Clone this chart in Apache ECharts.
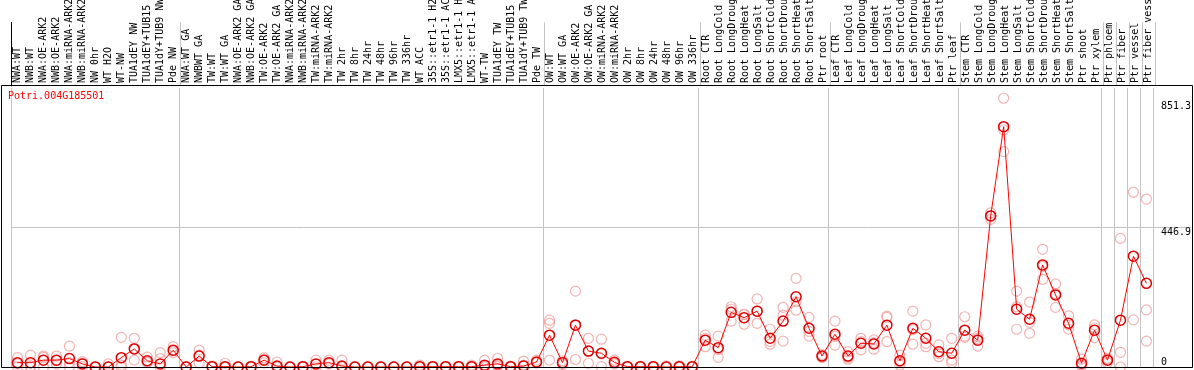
<!DOCTYPE html>
<html>
<head>
<meta charset="utf-8">
<script src="https://cdn.jsdelivr.net/npm/echarts@6/dist/echarts.min.js"></script>
<style>
  html, body { margin: 0; padding: 0; background: #fff; }
  #chart { width: 1194px; height: 370px; }
</style>
</head>
<body>
<div id="chart"></div>
<script>
///////////////////////////////////////////////////
// Data
///////////////////////////////////////////////////
var categories = [
  'NWA:WT', 'NWB:WT', 'NWA:OE-ARK2', 'NWB:OE-ARK2', 'NWA:miRNA-ARK2', 'NWB:miRNA-ARK2',
  'NW 0hr', 'WT H2O', 'WT-NW', 'TUA1dEY NW', 'TUA1dEY+TUB15 NW', 'TUA1dY+TUB9 NW', 'Pde NW',
  'NWA:WT GA', 'NWBWT GA', 'TW:WT', 'TW:WT GA', 'NWA:OE-ARK2 GA', 'NWB:OE-ARK2 GA',
  'TW:OE-ARK2', 'TW:OE-ARK2 GA', 'NWA:miRNA-ARK2', 'NWB:miRNA-ARK2', 'TW:miRNA-ARK2',
  'TW:miRNA-ARK2', 'TW 2hr', 'TW 8hr', 'TW 24hr', 'TW 48hr', 'TW 96hr', 'TW 336hr', 'WT ACC',
  '35S::etr1-1 H2O', '35S::etr1-1 ACC', 'LMX5::etr1-1 H2O', 'LMX5::etr1-1 ACC', 'WT-TW',
  'TUA1dEY TW', 'TUA1dEY+TUB15 TW', 'TUA1dY+TUB9 TW', 'Pde TW',
  'OW:WT', 'OW:WT GA', 'OW:OE-ARK2', 'OW:OE-ARK2 GA', 'OW:miRNA-ARK2', 'OW:miRNA-ARK2',
  'OW 2hr', 'OW 8hr', 'OW 24hr', 'OW 48hr', 'OW 96hr', 'OW 336hr',
  'Root CTR', 'Root LongCold', 'Root LongDrought', 'Root LongHeat', 'Root LongSalt',
  'Root ShortCold', 'Root ShortDrought', 'Root ShortHeat', 'Root ShortSalt', 'Ptr root',
  'Leaf CTR', 'Leaf LongCold', 'Leaf LongDrought', 'Leaf LongHeat', 'Leaf LongSalt',
  'Leaf ShortCold', 'Leaf ShortDrought', 'Leaf ShortHeat', 'Leaf ShortSalt', 'Ptr leaf',
  'Stem CTR', 'Stem LongCold', 'Stem LongDrought', 'Stem LongHeat', 'Stem LongSalt',
  'Stem ShortCold', 'Stem ShortDrought', 'Stem ShortHeat', 'Stem ShortSalt', 'Ptr shoot',
  'Ptr xylem', 'Ptr phloem', 'Ptr fiber', 'Ptr vessel', 'Ptr fiber vessel'
];

// index of the first category of each group (grey separators)
var groupStarts = [0, 13, 41, 53, 63, 73, 84, 85, 86, 87];

var means = [
  14, 14, 22, 22, 27, 10, 0, 0, 30, 58, 20, 10, 54,
  0, 35, 1, 1, 0, 1, 22, 3, 0, 1, 10, 14, 3, 0, 0, 0, 0, 0, 1, 1, 1, 1, 1, 6, 10, 1, 3, 16,
  102, 14, 134, 51, 44, 15, 1, 1, 1, 0, 1, 1,
  86, 62, 175, 158, 179, 92, 147, 225, 124, 35,
  105, 35, 76, 74, 134, 20, 124, 92, 49, 44,
  118, 86, 484, 770, 185, 153, 327, 231, 140, 12, 118,
  22, 150, 355, 268
];

var rep1 = [
  30, 38, 35, 35, 67, 17, 1, 10, 95, 92, 32, 46, 65,
  1, 54, 3, 12, 1, 2, 29, 16, 1, 2, 22, 22, 22, 1, 1, 1, 1, 1, 6, 2, 2, 2, 6, 22, 28, 3, 19, 22,
  150, 20, 243, 92, 89, 22, 2, 2, 2, 4, 4, 2,
  102, 99, 193, 169, 218, 121, 191, 284, 159, 40,
  147, 49, 92, 87, 163, 38, 179, 135, 71, 92,
  161, 99, 494, 861, 243, 208, 377, 266, 164, 25, 135,
  25, 412, 560, 538
];

var rep2 = [
  0, 3, 31, 10, 0, 1, 0, 0, 6, 22, 14, 27, 46,
  0, 13, 0, 0, 0, 1, 13, 0, 0, 0, 0, 10, 0, 0, 0, 0, 0, 0, 0, 1, 1, 1, 1, 0, 3, 1, 6, 14,
  140, 14, 24, 12, 1, 12, 1, 0, 1, 0, 1, 1,
  65, 31, 147, 137, 140, 73, 166, 182, 99, 30,
  70, 25, 55, 57, 81, 6, 73, 65, 33, 22,
  99, 67, 473, 690, 193, 108, 281, 191, 121, 3, 94,
  14, 47, 151, 183
];

var rep3 = [
  10, 0, 0, 21, 14, 12, 0, 0, 0, 60, 16, 0, 52,
  0, 38, 1, 0, 0, 0, 24, 1, 0, 1, 8, 12, 1, 0, 0, 0, 0, 0, 1, 0, 0, 0, 0, 2, 5, 0, 3, 13,
  22, 8, 136, 50, 42, 10, 0, 1, 0, 0, 0, 0,
  92, 56, 185, 168, 179, 82, 83, 209, 114, 35,
  98, 31, 81, 78, 159, 16, 120, 76, 43, 14,
  95, 92, 485, 760, 121, 143, 322, 235, 135, 8, 125,
  28, 0, null, 83
];

var yMax = 893.8;
var yGridValues = [446.9];
var yTopLabels = [446.9, 851.3];
var yBottomLabels = [0];

///////////////////////////////////////////////////
// Build options
///////////////////////////////////////////////////
var FONT = 'DejaVu Sans Mono';
var GREY = '#c4c4c4';

function isGroupStart(index) {
  return groupStarts.indexOf(index) >= 0;
}

var replicatePoints = [];
[rep1, rep2, rep3].forEach(function (rep) {
  rep.forEach(function (v, i) {
    if (v !== null) replicatePoints.push([i, v]);
  });
});

var option = {
  animation: false,
  backgroundColor: '#fff',
  title: {
    text: 'Potri.004G185501',
    left: 8,
    top: 91,
    padding: 0,
    textStyle: { color: '#ff0000', fontSize: 10, fontWeight: 'normal', fontFamily: FONT }
  },
  grid: [
    // label strip
    { left: 11, right: 39, top: 0, bottom: 284 },
    // plot
    { left: 11, right: 39, top: 88, bottom: 3 }
  ],
  xAxis: [
    {
      gridIndex: 0,
      type: 'category',
      data: categories,
      position: 'bottom',
      axisLine: { show: false },
      axisTick: { show: false },
      axisLabel: {
        inside: true,
        rotate: 90,
        interval: 0,
        margin: 3,
        color: '#000',
        fontSize: 10,
        fontFamily: FONT
      },
      splitLine: { show: true, interval: isGroupStart, lineStyle: { color: GREY, width: 1 } }
    },
    {
      gridIndex: 1,
      type: 'category',
      data: categories,
      axisLine: { show: false },
      axisTick: { show: false },
      axisLabel: { show: false },
      splitLine: { show: true, interval: isGroupStart, lineStyle: { color: GREY, width: 1 } }
    }
  ],
  yAxis: [
    {
      gridIndex: 0,
      type: 'value',
      position: 'left',
      axisLine: { show: true, onZero: false, lineStyle: { color: '#000', width: 1 } },
      axisTick: { show: false },
      axisLabel: { show: false },
      splitLine: { show: false }
    },
    {
      gridIndex: 1,
      type: 'value',
      position: 'right',
      min: 0,
      max: yMax,
      axisLine: { show: false },
      axisTick: { show: true, customValues: yGridValues, length: 38, inside: false, lineStyle: { color: GREY } },
      axisLabel: {
        customValues: yTopLabels,
        margin: 8,
        verticalAlign: 'top',
        color: '#000',
        fontSize: 10,
        fontFamily: FONT,
        formatter: function (v) { return String(v); }
      },
      splitLine: { show: true, lineStyle: { color: GREY, width: 1 } }
    },
    {
      gridIndex: 1,
      type: 'value',
      position: 'right',
      min: 0,
      max: yMax,
      axisLine: { show: false },
      axisTick: { show: false },
      axisLabel: {
        customValues: yBottomLabels,
        margin: 8,
        verticalAlign: 'bottom',
        color: '#000',
        fontSize: 10,
        fontFamily: FONT
      },
      splitLine: { show: false }
    }
  ],
  graphic: [
    {
      type: 'rect',
      silent: true,
      z: 100,
      shape: { x: 1.5, y: 85.5, width: 1191, height: 282 },
      style: { fill: 'none', stroke: '#000', lineWidth: 1 }
    }
  ],
  series: [
    {
      name: 'replicates',
      type: 'scatter',
      xAxisIndex: 1,
      yAxisIndex: 1,
      symbol: 'circle',
      symbolSize: 10,
      itemStyle: { color: 'rgba(0,0,0,0)', borderColor: '#f0a0a0', borderWidth: 1.2 },
      data: replicatePoints,
      z: 2
    },
    {
      name: 'mean',
      type: 'line',
      xAxisIndex: 1,
      yAxisIndex: 1,
      symbol: 'circle',
      symbolSize: 10,
      showAllSymbol: true,
      lineStyle: { color: '#ff0000', width: 1 },
      itemStyle: { color: 'rgba(0,0,0,0)', borderColor: '#dd0000', borderWidth: 1.5 },
      data: means,
      z: 3
    }
  ]
};

var myChart = echarts.init(document.getElementById('chart'), null, { renderer: 'canvas' });
myChart.setOption(option);
</script>
</body>
</html>
